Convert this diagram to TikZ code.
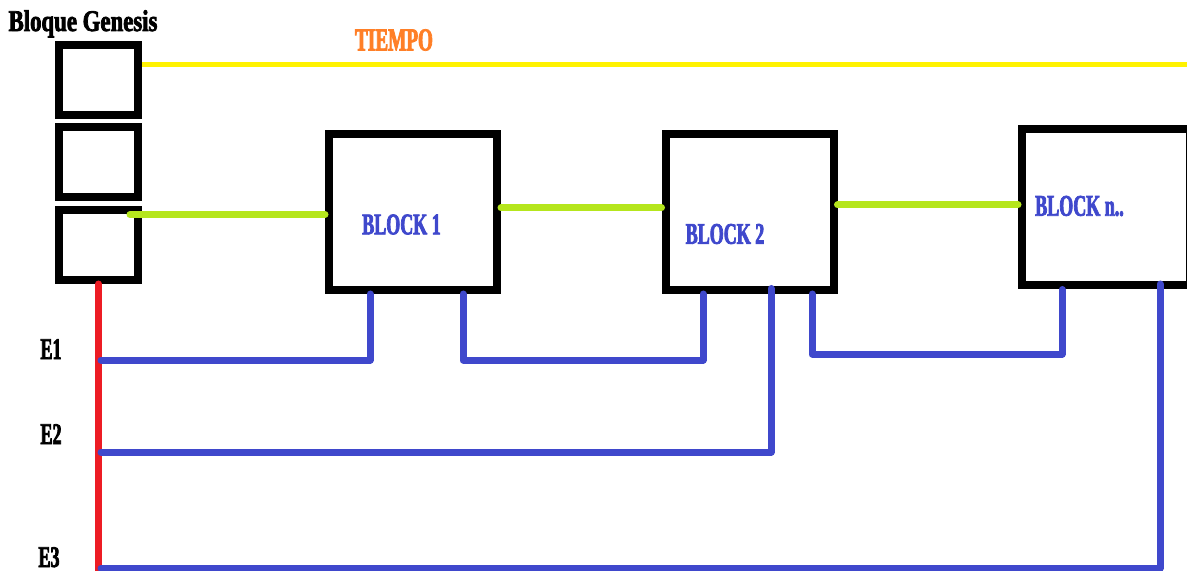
\documentclass[tikz,border=0pt]{standalone}
\usepackage{fontspec}
\usetikzlibrary{calc,positioning}
\newfontfamily\paintfont[FakeStretch=0.6,FakeBold=2.5]{Liberation Serif}
\newfontfamily\genfont[FakeStretch=0.76,FakeBold=2.5]{Liberation Serif}
\definecolor{PYel}{RGB}{255,242,0}
\definecolor{PLim}{RGB}{181,230,29}
\definecolor{PRed}{RGB}{237,28,36}
\definecolor{PBlu}{RGB}{63,72,204}
\definecolor{POra}{RGB}{255,127,39}
\begin{document}
\begin{tikzpicture}[x=0.5pt,y=-0.5pt,
  gbox/.style={draw=black, line width=4pt, minimum width=39.5pt,
               minimum height=35pt, inner sep=0pt},
  blk/.style={draw=black, line width=4pt, minimum width=84pt,
              minimum height=78pt, inner sep=0pt},
  lbl/.style={font=\paintfont\bfseries\fontsize{15}{18}\selectfont,
              text=PBlu, inner sep=0pt},
  elbl/.style={font=\paintfont\bfseries\fontsize{15}{18}\selectfont,
               text=black, inner sep=0pt, anchor=base},
  tiempo/.style={draw=PYel, line width=2.5pt},
  chain/.style={draw=PLim, line width=3.5pt, line cap=round},
  trunk/.style={draw=PRed, line width=3.5pt, line cap=round},
  link/.style={draw=PBlu, line width=3.5pt, line cap=round, line join=round}
]
\clip (0,0) rectangle (1187,571);

% Genesis stack
\foreach \n/\y in {1/80.5,2/162,3/245}
  { \node[gbox] (g\n) at (98.5,\y) {}; }
\node[font=\genfont\bfseries\fontsize{15}{18}\selectfont, inner sep=0pt,
      anchor=base] (gen) at (83,31) {Bloque Genesis};

% Blocks
\foreach \n/\x/\y in {1/413/212,2/749.5/212,n/1106/207.5}
  { \node[blk] (b\n) at (\x,\y) {}; }
\node[lbl] (t1) at (401.5,224.5) {BLOCK 1};
\node[lbl] (t2) at (725,234) {BLOCK 2};
\node[lbl] (tn) at (1079.5,206) {BLOCK n..};

% Time line
\coordinate (tend) at (1187,65);
\node[font=\paintfont\bfseries\fontsize{16}{19}\selectfont, text=POra,
      inner sep=0pt] (tl) at (394,40) {TIEMPO};
\draw[tiempo] (g1.east |- tend) -- (tend);

% Chain links
\draw[chain] ($(g3.east |- 0,214.5)+(-12,0)$) -- (b1.west |- 0,214.5);
\draw[chain] ([yshift=2pt]b1.east) -- ([yshift=2pt]b2.west);
\draw[chain] (b2.east |- 0,205) -- (bn.west |- 0,205);

% Red trunk
\coordinate (rb) at (98.5,578);
\draw[trunk] (g3.south) -- (rb);

% Levels and stems
\coordinate (e1) at (101,360);
\coordinate (e2) at (101,452);
\coordinate (e3) at (101,568);
\coordinate (lv1) at (0,360);
\coordinate (lv0) at (0,354);
\coordinate (s1a) at ([xshift=-21.5pt]b1.south);
\coordinate (s1b) at ([xshift=25pt]b1.south);
\coordinate (s2a) at ([xshift=-23.25pt]b2.south);
\coordinate (s2b) at ([xshift=10.75pt,yshift=2.75pt]b2.south);
\coordinate (s2c) at ([xshift=31.25pt]b2.south);
\coordinate (sna) at ([xshift=-22pt]bn.south);
\coordinate (snb) at ([xshift=27pt,yshift=2.75pt]bn.south);

\draw[link] (e1) -| (s1a);
\draw[link] (s1b) |- (lv1 -| s2a) -- (s2a);
\draw[link] (e2) -| (s2b);
\draw[link] (s2c) |- (lv0 -| sna) -- (sna);
\draw[link] (e3) -| (snb);

% Edge labels
\node[elbl] (l1) at (51,359) {E1};
\node[elbl] (l2) at (51,444) {E2};
\node[elbl] (l3) at (49,567) {E3};
\end{tikzpicture}
\end{document}
